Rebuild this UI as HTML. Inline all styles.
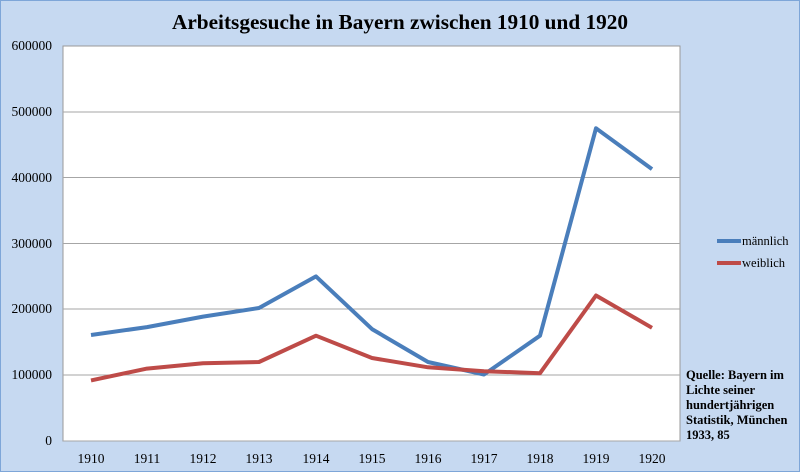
<!DOCTYPE html>
<html><head><meta charset="utf-8"><style>
html,body{margin:0;padding:0;}
body{width:800px;height:472px;overflow:hidden;background:#c6d9f1;}
svg{display:block;font-family:"Liberation Serif","DejaVu Serif",serif;}
</style></head><body>
<svg width="800" height="472" viewBox="0 0 800 472" xmlns="http://www.w3.org/2000/svg">
<rect x="0.5" y="0.5" width="799" height="471" fill="#c6d9f1" stroke="#7ea6d8" stroke-width="1"/>
<text x="400" y="29" text-anchor="middle" font-size="21" font-weight="bold" fill="#000" textLength="456" lengthAdjust="spacingAndGlyphs">Arbeitsgesuche in Bayern zwischen 1910 und 1920</text>
<rect x="63" y="46" width="617" height="395" fill="#fff" stroke="#999" stroke-width="1"/>
<g stroke="#a6a6a6" stroke-width="1">
<line x1="63" x2="680" y1="112" y2="112"/><line x1="63" x2="680" y1="177.5" y2="177.5"/>
<line x1="63" x2="680" y1="243.5" y2="243.5"/><line x1="63" x2="680" y1="309" y2="309"/>
<line x1="63" x2="680" y1="375" y2="375"/><line x1="63" x2="680" y1="441" y2="441"/>
</g>
<g font-size="13.5" fill="#000" text-anchor="end">
<text x="52" y="50">600000</text><text x="52" y="116">500000</text><text x="52" y="182">400000</text>
<text x="52" y="248">300000</text><text x="52" y="313">200000</text><text x="52" y="379">100000</text>
<text x="52" y="445">0</text>
</g>
<g font-size="13.5" fill="#000" text-anchor="middle">
<text x="91" y="463">1910</text><text x="147" y="463">1911</text><text x="203" y="463">1912</text>
<text x="259" y="463">1913</text><text x="316" y="463">1914</text><text x="372" y="463">1915</text>
<text x="428" y="463">1916</text><text x="484" y="463">1917</text><text x="540" y="463">1918</text>
<text x="596" y="463">1919</text><text x="652" y="463">1920</text>
</g>
<polyline fill="none" stroke="#4a7ebb" stroke-width="4" stroke-linejoin="round" points="91,335 147,327.1 203,316.6 259,308 316,276.4 372,329.1 428,362 484,374.5 540,335.7 596,128.3 652,169.1"/>
<polyline fill="none" stroke="#be4b48" stroke-width="4" stroke-linejoin="round" points="91,380.4 147,368.6 203,363.3 259,362 316,335.7 372,358 428,367.3 484,371.2 540,373.2 596,295.5 652,327.8"/>
<line x1="717" x2="741" y1="241" y2="241" stroke="#4a7ebb" stroke-width="4"/>
<line x1="717" x2="741" y1="263" y2="263" stroke="#be4b48" stroke-width="4"/>
<g font-size="12.5" fill="#000">
<text x="742" y="245">männlich</text><text x="742" y="267">weiblich</text>
</g>
<g font-size="12.5" font-weight="bold" fill="#000">
<text x="686" y="379">Quelle: Bayern im</text>
<text x="686" y="394">Lichte seiner</text>
<text x="686" y="409">hundertjährigen</text>
<text x="686" y="424">Statistik, München</text>
<text x="686" y="439">1933, 85</text>
</g>
</svg>
</body></html>
